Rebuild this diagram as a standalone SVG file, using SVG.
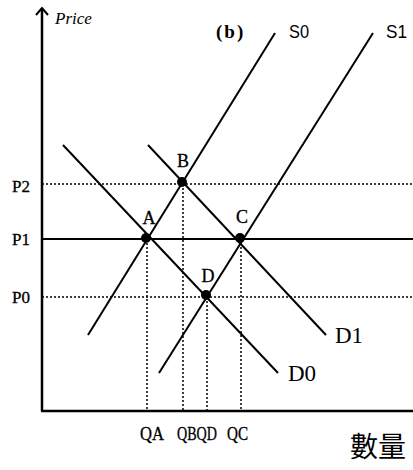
<svg xmlns="http://www.w3.org/2000/svg" width="413" height="470" viewBox="0 0 413 470">
<style>
.ax{stroke:#000;stroke-width:2.5;fill:none}
.ln{stroke:#000;stroke-width:2;fill:none}
.dt{stroke:#000;stroke-width:1.5;stroke-dasharray:2 2;fill:none}
.dot{fill:#000}
.lab{font-family:"Liberation Serif","DejaVu Serif",serif;fill:#000;stroke:#000;stroke-width:0.3}
.serif{font-family:"Liberation Serif","DejaVu Serif",serif;fill:#000}
.sans{font-family:"Liberation Sans","DejaVu Sans",sans-serif;fill:#000}
.cjk{font-family:"Noto Sans CJK TC","Noto Sans CJK SC",sans-serif;fill:#000}
</style>
<rect width="413" height="470" fill="#fff"/>
<g id="axes">
<line class="ax" x1="42" y1="8" x2="42" y2="411"/>
<line class="ax" x1="41" y1="411" x2="413" y2="411"/>
<polyline class="ln" points="36,15 42,8 48,15"/>
<text class="serif" x="55" y="24" font-size="17" font-style="italic">Price</text>
<text class="serif" x="216" y="38" font-size="19" font-weight="bold" letter-spacing="2">(b)</text>
<text class="cjk" x="350" y="457" font-size="28">數量</text>
</g>
<g id="connectors">
<line class="dt" x1="42" y1="184" x2="413" y2="184"/>
<line class="ln" x1="42" y1="239" x2="413" y2="239"/>
<line class="dt" x1="42" y1="297" x2="413" y2="297"/>
<line class="dt" x1="147" y1="239" x2="147" y2="410"/>
<line class="dt" x1="183" y1="184" x2="183" y2="410"/>
<line class="dt" x1="207" y1="297" x2="207" y2="410"/>
<line class="dt" x1="241" y1="239" x2="241" y2="410"/>
</g>
<g id="S0"><line class="ln" x1="88" y1="335" x2="275" y2="33"/><text class="sans" x="289" y="38" font-size="19" textLength="20" lengthAdjust="spacingAndGlyphs">S0</text></g>
<g id="S1"><line class="ln" x1="159" y1="373" x2="373" y2="33"/><text class="sans" x="386" y="38" font-size="19" textLength="21" lengthAdjust="spacingAndGlyphs">S1</text></g>
<g id="D0"><line class="ln" x1="63" y1="145" x2="278" y2="373"/><text class="serif" x="288" y="381" font-size="23">D0</text></g>
<g id="D1"><line class="ln" x1="148" y1="145" x2="326" y2="335"/><text class="serif" x="335" y="343" font-size="23">D1</text></g>
<g id="labels-p">
<text class="lab" x="12" y="192" font-size="17">P2</text>
<text class="lab" x="12" y="245" font-size="17">P1</text>
<text class="lab" x="12" y="303" font-size="17">P0</text>
</g>
<g id="labels-q">
<text class="lab" x="140" y="440" font-size="18" textLength="24" lengthAdjust="spacingAndGlyphs">QA</text>
<text class="lab" x="177" y="440" font-size="18" textLength="40" lengthAdjust="spacingAndGlyphs">QBQD</text>
<text class="lab" x="227" y="440" font-size="18" textLength="21" lengthAdjust="spacingAndGlyphs">QC</text>
</g>
<g id="A"><circle class="dot" cx="146" cy="238" r="5"/><text class="lab" x="149" y="224" font-size="18" text-anchor="middle">A</text></g>
<g id="B"><circle class="dot" cx="182" cy="182" r="5"/><text class="lab" x="183" y="167" font-size="18" text-anchor="middle">B</text></g>
<g id="C"><circle class="dot" cx="240" cy="238" r="5"/><text class="lab" x="242" y="223" font-size="18" text-anchor="middle">C</text></g>
<g id="D"><circle class="dot" cx="206" cy="295" r="5"/><text class="lab" x="208" y="282" font-size="18" text-anchor="middle">D</text></g>
</svg>
